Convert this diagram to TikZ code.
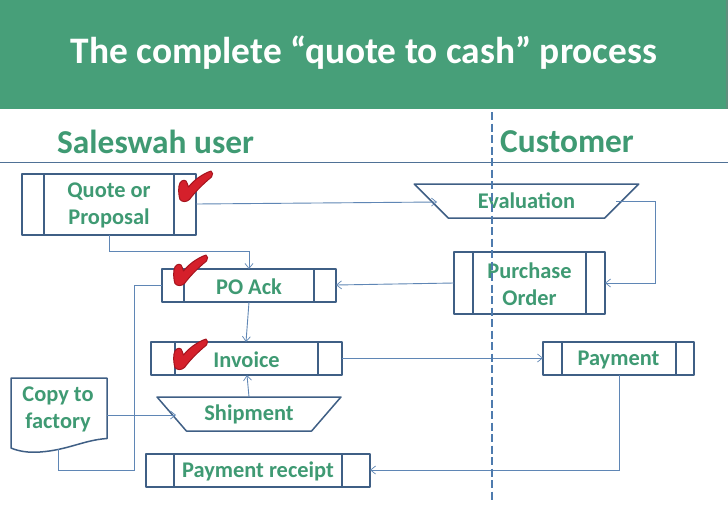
\documentclass[tikz,border=0pt]{standalone}
\usepackage{fontspec}
\setmainfont{Carlito}
\usetikzlibrary{shapes.geometric,arrows.meta}
\definecolor{hdr}{HTML}{479F79}
\definecolor{hdredge}{HTML}{5E8F7C}
\definecolor{ink}{HTML}{3F9A73}
\definecolor{boxln}{HTML}{3F5F85}
\definecolor{conn}{HTML}{5F86B5}
\definecolor{rule}{HTML}{4F7196}
\definecolor{dashc}{HTML}{4E7BAE}
\definecolor{chk}{HTML}{D5202B}
\definecolor{chkd}{HTML}{A5141E}
\tikzset{
  x=1pt,y=-1pt,
  lbl/.style={font=\fontsize{22.4}{27}\selectfont\bfseries,text=ink,align=center,inner sep=0pt},
  pbox/.style={draw=boxln,line width=1.5pt,inner sep=0pt,outer sep=0pt,line join=round},
  trap/.style={pbox,trapezium,shape border rotate=180,trapezium stretches=true,minimum height=34pt},
  link/.style={draw=conn,line width=0.9pt,-{Straight Barb[length=5pt,width=8pt,line width=.7pt]}},
  plainlink/.style={draw=conn,line width=0.9pt},
  chkmark/.style={fill=chk,draw=chkd,line width=1pt,line join=round}
}
% name, x1, y1, x2, y2, inner1, inner2, text
\newcommand{\procbox}[8]{%
  \node[pbox,minimum width=#4pt-#2pt,minimum height=#5pt-#3pt,anchor=north west] (#1) at (#2,#3) {};
  \draw[pbox] (#6,#3) -- (#6,#5) (#7,#3) -- (#7,#5);
  \node[lbl,yshift=-1pt] at (#1.center) {#8};
}
\newcommand{\tick}[2]{%
  \draw[chkmark,shift={(#1,#2)}] (0,15) .. controls (0.5,10) and (5,8) .. (7,10)
   .. controls (8.5,12) and (8.5,14) .. (9.5,16)
   .. controls (14,10) and (23,3) .. (32,0)
   .. controls (34,1) and (34,4) .. (32.5,6)
   .. controls (24,13) and (16,21) .. (10.5,28.5)
   .. controls (7,31.5) and (3,31) .. (1,28.5)
   .. controls (-0.5,24) and (-0.5,19) .. (0,15) -- cycle;
}
\begin{document}
\begin{tikzpicture}
\useasboundingbox (0,0) rectangle (728,504);
\fill[white] (0,0) rectangle (728,504);
\fill[hdr] (0,0) rectangle (726,109);
\fill[hdredge] (726,0) rectangle (728,109);
\node[font=\fontsize{37.4}{42}\selectfont\bfseries,text=white,inner sep=0pt] (title) at (364,53) {The complete “quote to cash” process};
\node[font=\fontsize{33.4}{38}\selectfont\bfseries,text=ink,inner sep=0pt,anchor=west] (left) at (57,142) {Saleswah user};
\node[font=\fontsize{33.4}{38}\selectfont\bfseries,text=ink,inner sep=0pt,anchor=west] (right) at (500,142) {Customer};
\coordinate (ruleA) at (0,162.5);
\coordinate (ruleB) at (728,162.5);
\draw[rule,line width=.8pt] (ruleA) -- (ruleB);

% process boxes
\procbox{quote}{22}{174}{196}{235}{44}{174}{Quote or\\Proposal}
\procbox{poack}{162}{269}{336}{302}{184}{314}{PO Ack}
\procbox{invoice}{151}{342}{342}{375}{175}{318}{Invoice}
\procbox{receipt}{146}{454}{370}{487}{174}{342}{Payment receipt}
\procbox{po}{454}{252}{605}{314}{473}{586}{Purchase\\Order}
\procbox{payment}{543}{342}{694}{375}{562}{676}{Payment}

% trapezoids
\node[trap,lbl,pbox,trapezium left angle=37,trapezium right angle=37,minimum width=225pt] (eval) at (526.5,201) {Evaluation};
\node[trap,lbl,pbox,trapezium left angle=42.6,trapezium right angle=42.6,minimum width=184pt] (ship) at (249,414) {Shipment};

% document
\draw[pbox,fill=white] (11,378) -- (107,378) -- (107,438.5)
  .. controls (84,440) and (68,450) .. (40,452)
  .. controls (28,453) and (18,451) .. (11,448) -- cycle;
\node[lbl] (copy) at (58,409) {Copy to\\factory};
\coordinate (copyE) at (107,415);
\coordinate (copyS) at (58,449);

% connectors
\coordinate (qE) at (196,204);
\coordinate (evW) at (437,202);
\coordinate (evE) at (616,201);
\coordinate (poE) at (605,283);
\coordinate (c1) at (655,201);
\coordinate (c2) at (655,283);
\coordinate (poW) at (454,283);
\coordinate (ackE) at (336,285);
\draw[link] (qE) -- (evW);
\draw[link] (evE) -- (c1) -- (c2) -- (poE);
\draw[link] (poW) -- (ackE);
\coordinate (qS) at (109,235);
\coordinate (c3) at (109,251);
\coordinate (c4) at (249,251);
\coordinate (ackN) at (249,269);
\draw[link] (qS) -- (c3) -- (c4) -- (ackN);
\coordinate (ackS) at (249,302);
\coordinate (invN) at (246,342);
\draw[link] (ackS) -- (invN);
\coordinate (shipN) at (249,397);
\coordinate (invS) at (247,375);
\draw[link] (shipN) -- (invS);
\coordinate (invE) at (342,358);
\coordinate (payW) at (543,358);
\draw[link] (invE) -- (payW);
\coordinate (payS) at (619,375);
\coordinate (c5) at (619,470);
\coordinate (recE) at (370,470);
\draw[link] (payS) -- (c5) -- (recE);
\coordinate (shipW) at (176,415);
\draw[link] (copyE) -- (shipW);
\coordinate (ackW) at (162,285);
\draw[plainlink] (ackW) -- (134,285) -- (134,470) -- (58,470) -- (copyS);

% divider
\coordinate (divA) at (492,112);
\coordinate (divB) at (492,500);
\draw[dashc,line width=2.6pt,dash pattern=on 8pt off 3.5pt] (divA) -- (divB);

% ticks
\tick{179}{171}
\tick{174}{255}
\tick{174}{339}
\end{tikzpicture}
\end{document}
